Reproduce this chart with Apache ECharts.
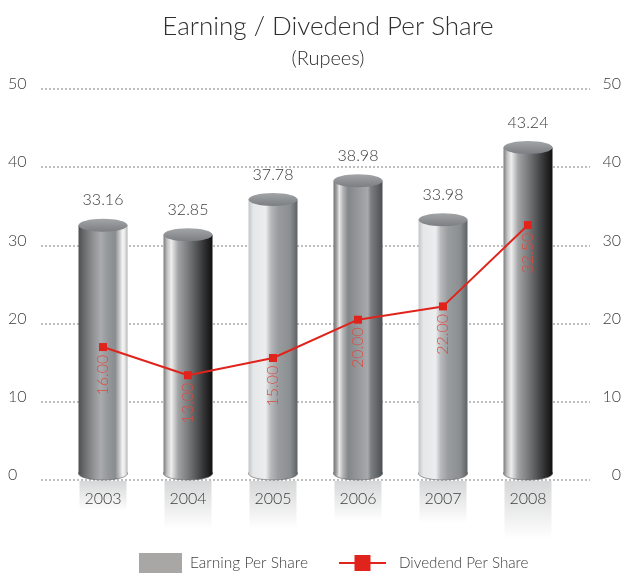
<!DOCTYPE html>
<html>
<head>
<meta charset="utf-8">
<style>
  html, body { margin: 0; padding: 0; background: #fff; }
  #main { width: 624px; height: 574px; }
</style>
<script src="https://cdn.jsdelivr.net/npm/echarts@6/dist/echarts.min.js"></script>
</head>
<body>
<div id="main"></div>
<script>
const years = ['2003', '2004', '2005', '2006', '2007', '2008']
// the printed labels do not quite agree with the drawn heights, so both are kept
const earningHeights = [33.4, 32.2, 36.7, 39.1, 34.1, 43.35]
const earningLabels = ['33.16', '32.85', '37.78', '38.98', '33.98', '43.24']
const dividendHeights = [17.0, 13.4, 15.6, 20.5, 22.2, 32.6]
const dividendLabels = ['16.00', '13.00', '15.00', '20.00', '22.00', '32.50']
const yTicks = [0, 10, 20, 30, 40, 50]

const fontFamily = 'Lato, "Open Sans", sans-serif'
const textColor = '#3d3d3d'
const dotted = { color: '#a9a9a9', width: 1.5, type: [2, 2] }

// cylinder shading, one per bar
const lightShade = [[0, '#c4c5c7'], [0.1, '#e6e7e9'], [0.35, '#ecedee'], [0.45, '#b8babc'], [0.6, '#9a9da0'], [0.85, '#8b8e91'], [1, '#5e6164']]
const darkShade = [[0, '#7c7c7c'], [0.08, '#c4c4c4'], [0.16, '#eeeeee'], [0.3, '#a2a3a5'], [0.55, '#6e7072'], [0.85, '#2e2e30'], [1, '#101010']]
const barShades = [
  [[0, '#4d4f51'], [0.12, '#6a6c6e'], [0.3, '#8f9193'], [0.45, '#a9abae'], [0.6, '#95989b'], [0.75, '#8a8d90'], [0.83, '#c0c1c2'], [0.9, '#f4f4f4'], [0.95, '#e6e6e6'], [1, '#aeb0ae']],
  darkShade,
  lightShade,
  [[0, '#6f7174'], [0.06, '#a0a0a0'], [0.12, '#e8e8e8'], [0.2, '#b0b1b2'], [0.3, '#84878a'], [0.55, '#9a9c9f'], [0.7, '#a7a9ac'], [0.76, '#7d8083'], [1, '#4c4f52']],
  lightShade,
  darkShade
]
const reflectionLengths = [30, 48, 48, 40, 42, 58]
const barWidth = 49
const capRadius = 6.5

function horizontalGradient (stops) {
  return new echarts.graphic.LinearGradient(0, 0, 1, 0, stops.map(s => ({ offset: s[0], color: s[1] })))
}

function renderCylinder (params, api) {
  const i = api.value(0)
  const top = api.coord([i, api.value(1)])
  const base = api.coord([i, 0])
  const cx = top[0]
  const left = cx - barWidth / 2
  const capY = top[1] + capRadius
  const footY = base[1] - capRadius
  const fill = horizontalGradient(barShades[i])
  return {
    type: 'group',
    children: [
      {
        type: 'rect',
        shape: { x: left + 1, y: base[1] + 1, width: barWidth - 2, height: reflectionLengths[i] },
        style: { fill: new echarts.graphic.LinearGradient(0, 0, 0, 1, [{ offset: 0, color: '#d6d7d8' }, { offset: 1, color: '#ffffff' }]) }
      },
      { type: 'ellipse', shape: { cx: cx, cy: footY, rx: barWidth / 2, ry: capRadius }, style: { fill: fill, stroke: '#55575a', lineWidth: 0.6 } },
      { type: 'rect', shape: { x: left, y: capY, width: barWidth, height: footY - capY }, style: { fill: fill } },
      {
        type: 'ellipse',
        shape: { cx: cx, cy: capY, rx: barWidth / 2, ry: capRadius },
        style: { fill: new echarts.graphic.LinearGradient(0, 0, 0, 1, [{ offset: 0, color: '#a3a5a7' }, { offset: 1, color: '#7b7e82' }]) }
      },
      {
        type: 'text',
        style: { text: earningLabels[i], x: cx, y: top[1] - 18.5, align: 'center', verticalAlign: 'middle', fill: textColor, font: '300 16px ' + fontFamily }
      }
    ]
  }
}

const yAxisBase = {
  type: 'value',
  gridIndex: 0,
  min: yTicks[0],
  max: yTicks[yTicks.length - 1],
  interval: yTicks[1] - yTicks[0],
  axisLine: { show: false },
  axisTick: { show: false }
}

const chart = echarts.init(document.getElementById('main'))
chart.setOption({
  animation: false,
  backgroundColor: '#fff',
  textStyle: { fontFamily: fontFamily },
  title: [
    { text: 'Earning / Divedend Per Share', left: 328, top: 14, padding: 0, textAlign: 'center', textStyle: { fontSize: 26, fontWeight: 300, color: '#2e2e2e', fontFamily: fontFamily } },
    { text: '(Rupees)', left: 328, top: 49, padding: 0, textAlign: 'center', textStyle: { fontSize: 20, fontWeight: 300, color: '#2e2e2e', fontFamily: fontFamily } }
  ],
  legend: [
    {
      data: ['Earning Per Share'], left: 139, top: 553, padding: 0, itemWidth: 43, itemHeight: 20, itemGap: 0, icon: 'rect', selectedMode: false,
      textStyle: { fontSize: 15.5, fontWeight: 300, color: textColor, padding: [0, 0, 0, 3] }
    },
    {
      data: ['Divedend Per Share'], left: 338, top: 555, padding: 0, itemWidth: 47, itemHeight: 20, itemGap: 0, selectedMode: false,
      textStyle: { fontSize: 15.2, fontWeight: 300, color: textColor, padding: [0, 0, 0, 8] }
    }
  ],
  grid: [
    { left: 41, right: 32, top: 89, bottom: 94 },
    { left: 60.5, width: 510, top: 89, bottom: 94 }
  ],
  xAxis: [
    { type: 'value', gridIndex: 0, min: 0, max: 1, show: false },
    {
      type: 'category',
      gridIndex: 1,
      data: years,
      axisLine: { show: false },
      axisTick: { show: false },
      z: 10,
      axisLabel: { color: textColor, fontSize: 16, fontWeight: 300, margin: 11 }
    }
  ],
  yAxis: [
    {
      ...yAxisBase,
      position: 'left',
      splitLine: { show: true, lineStyle: dotted },
      axisLabel: { color: textColor, fontSize: 16, fontWeight: 300, align: 'left', verticalAlign: 'bottom', lineHeight: 10, margin: 33 }
    },
    {
      ...yAxisBase,
      position: 'right',
      splitLine: { show: false },
      axisLabel: { color: textColor, fontSize: 16, fontWeight: 300, align: 'right', verticalAlign: 'bottom', lineHeight: 10, margin: 31 }
    },
    { ...yAxisBase, gridIndex: 1, show: false, splitLine: { show: false } }
  ],
  series: [
    {
      name: 'Earning Per Share',
      type: 'custom',
      xAxisIndex: 1,
      yAxisIndex: 2,
      clip: false,
      itemStyle: { color: '#a8a7a5' },
      renderItem: renderCylinder,
      encode: { x: 0, y: 1 },
      data: earningHeights.map((v, i) => [i, v])
    },
    {
      name: 'Divedend Per Share',
      type: 'line',
      xAxisIndex: 1,
      yAxisIndex: 2,
      z: 5,
      symbol: 'rect',
      symbolSize: 8,
      itemStyle: { color: '#e0231b' },
      lineStyle: { color: '#e0231b', width: 2 },
      label: {
        show: true,
        position: 'bottom',
        rotate: 90,
        distance: 24,
        offset: [0, -8],
        color: '#dc4a40',
        fontSize: 16,
        fontWeight: 300,
        formatter: p => dividendLabels[p.dataIndex]
      },
      data: dividendHeights
    }
  ]
})
</script>
</body>
</html>
